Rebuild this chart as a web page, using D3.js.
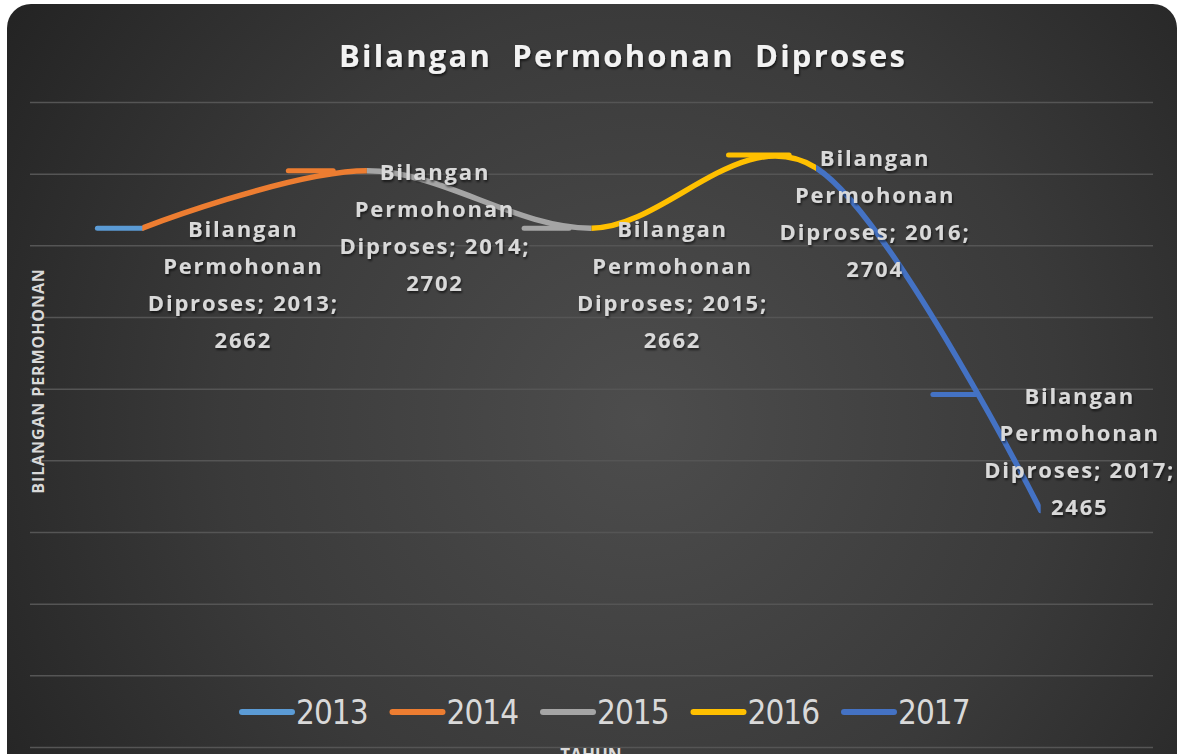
<!DOCTYPE html>
<html>
<head>
<meta charset="utf-8">
<script src="https://cdn.jsdelivr.net/npm/d3@7"></script>
<style>
  html, body { margin: 0; padding: 0; background: #ffffff; }
  svg { display: block; }
</style>
</head>
<body>
<div id="chart_id"></div>
<script>
// --- --- --- Data --- --- ---
const years = ["2013", "2014", "2015", "2016", "2017"];
const values = [2662, 2702, 2662, 2704, 2465];
const seriesName = "Bilangan Permohonan Diproses";
const seriesColors = ["#5b9bd5", "#ed7d31", "#a5a5a5", "#ffc000", "#4472c4"];
const yTicks = [2300, 2350, 2400, 2450, 2500, 2550, 2600, 2650, 2700, 2750];

// short dash at the start of each series (value, and category-index span)
const dashValues = [2662, 2702, 2662, 2713, 2546];
const dashFrom = [-0.2, 0.65, 1.70, 2.61, 3.52];
const dashTo = [0.0, 0.85, 1.90, 2.88, 3.71];

// --- --- --- Layout --- --- ---
const width = 1179, height = 754;
const plot = { left: 30, right: 1153, top: 102, bottom: 747 };
// label block offsets from each point (centre x, first line y)
const labelOffset = [[101, 1], [68, 1], [81, 1], [59, -10], [39, -114]];
const lineStep = 37;

const svg = d3.select("#chart_id").append("svg")
  .attr("width", width)
  .attr("height", height);

const defs = svg.append("defs");
const grad = defs.append("radialGradient")
  .attr("id", "bg_grad")
  .attr("gradientUnits", "userSpaceOnUse")
  .attr("cx", 640).attr("cy", 420).attr("r", 760);
grad.append("stop").attr("offset", "0%").attr("stop-color", "#4d4d4d");
grad.append("stop").attr("offset", "55%").attr("stop-color", "#3a3a3a");
grad.append("stop").attr("offset", "100%").attr("stop-color", "#232323");

const shadow = defs.append("filter").attr("id", "txt_shadow")
  .attr("x", "-10%").attr("y", "-10%").attr("width", "120%").attr("height", "140%");
shadow.append("feDropShadow")
  .attr("dx", 1).attr("dy", 2).attr("stdDeviation", 1.2)
  .attr("flood-color", "#000").attr("flood-opacity", 0.6);

// chart background (rounded top corners, runs off the bottom)
svg.append("rect")
  .attr("x", 7).attr("y", 4)
  .attr("width", 1170).attr("height", 800)
  .attr("rx", 24)
  .attr("fill", "url(#bg_grad)");

// --- --- --- Scales --- --- ---
const x = d3.scalePoint()
  .domain(years)
  .range([plot.left, plot.right])
  .padding(0.5);

const xi = i => x(years[0]) + i * x.step();

const y = d3.scaleLinear()
  .domain([2300, 2750])
  .range([plot.bottom, plot.top]);

// gridlines
svg.append("g")
  .attr("transform", `translate(${plot.left},0)`)
  .call(d3.axisRight(y).tickValues(yTicks).tickSize(plot.right - plot.left).tickFormat(""))
  .call(g => g.select(".domain").remove())
  .call(g => g.selectAll(".tick line")
    .attr("stroke", "#555555")
    .attr("stroke-width", 1.5));

// title
svg.append("text")
  .attr("x", 623).attr("y", 67)
  .attr("text-anchor", "middle")
  .attr("fill", "#f2f2f2")
  .attr("filter", "url(#txt_shadow)")
  .style("font", "bold 31px 'Open Sans', sans-serif")
  .style("letter-spacing", "2.2px")
  .style("word-spacing", "10px")
  .text(seriesName);

// y axis title
svg.append("text")
  .attr("transform", `translate(44,${381}) rotate(-90)`)
  .attr("text-anchor", "middle")
  .attr("fill", "#d9d9d9")
  .style("font", "bold 16px 'Open Sans', sans-serif")
  .style("letter-spacing", "0.9px")
  .text("BILANGAN PERMOHONAN");

// x axis title (cut off by the picture edge, as in the source)
svg.append("text")
  .attr("x", 591).attr("y", 761)
  .attr("text-anchor", "middle")
  .attr("fill", "#d9d9d9")
  .style("font", "bold 17px 'Open Sans', sans-serif")
  .text("TAHUN");

// --- --- --- Line --- --- ---
const pts = years.map((yr, i) => [x(yr), y(values[i])]);
const line = d3.line().curve(d3.curveCardinal.tension(0));

// each segment (previous year -> this year) is coloured as this year's series
years.forEach((yr, i) => {
  if (i === 0) return;
  defs.append("clipPath").attr("id", "seg_" + i)
    .append("rect")
    .attr("x", x(years[i - 1])).attr("y", 0)
    .attr("width", x(yr) - x(years[i - 1])).attr("height", height);
});

const lines = svg.append("g");

// dashes
lines.selectAll(".dash")
  .data(years)
  .join("line")
  .attr("class", "dash")
  .attr("x1", (d, i) => xi(dashFrom[i]))
  .attr("x2", (d, i) => xi(dashTo[i]))
  .attr("y1", (d, i) => y(dashValues[i]))
  .attr("y2", (d, i) => y(dashValues[i]))
  .attr("stroke", (d, i) => seriesColors[i])
  .attr("stroke-width", 5)
  .attr("stroke-linecap", "round");

lines.selectAll(".seg")
  .data(years.slice(1))
  .join("path")
  .attr("class", "seg")
  .attr("clip-path", (d, i) => `url(#seg_${i + 1})`)
  .attr("d", line(pts))
  .attr("fill", "none")
  .attr("stroke", (d, i) => seriesColors[i + 1])
  .attr("stroke-width", 5.5)
  .attr("stroke-linecap", "round");

// --- --- --- Data labels --- --- ---
const labels = svg.append("g")
  .attr("fill", "#d9d9d9")
  .attr("filter", "url(#txt_shadow)")
  .style("font", "bold 22px 'Open Sans', sans-serif")
  .style("letter-spacing", "1.8px");

years.forEach((yr, i) => {
  const cx = x(yr) + labelOffset[i][0];
  const cy = y(values[i]) + labelOffset[i][1];
  const rows = ["Bilangan", "Permohonan", `Diproses; ${yr};`, String(values[i])];
  labels.append("text")
    .attr("text-anchor", "middle")
    .selectAll("tspan")
    .data(rows)
    .join("tspan")
    .attr("x", cx)
    .attr("y", (d, k) => cy + k * lineStep)
    .attr("dy", "0.36em")
    .text(d => d);
});

// --- --- --- Legend --- --- ---
const legend = svg.append("g")
  .attr("transform", "translate(242,712)");

const item = legend.selectAll("g")
  .data(years)
  .join("g")
  .attr("transform", (d, i) => `translate(${i * 150.5},0)`);

item.append("line")
  .attr("x1", 0).attr("x2", 50)
  .attr("stroke", (d, i) => seriesColors[i])
  .attr("stroke-width", 6)
  .attr("stroke-linecap", "round");

item.append("text")
  .attr("x", 54)
  .attr("dy", "0.35em")
  .attr("fill", "#d9d9d9")
  .style("font", "33px 'Liberation Sans Narrow', 'DejaVu Sans Condensed', sans-serif")
  .style("letter-spacing", "-1px")
  .text(d => d);
</script>
</body>
</html>
